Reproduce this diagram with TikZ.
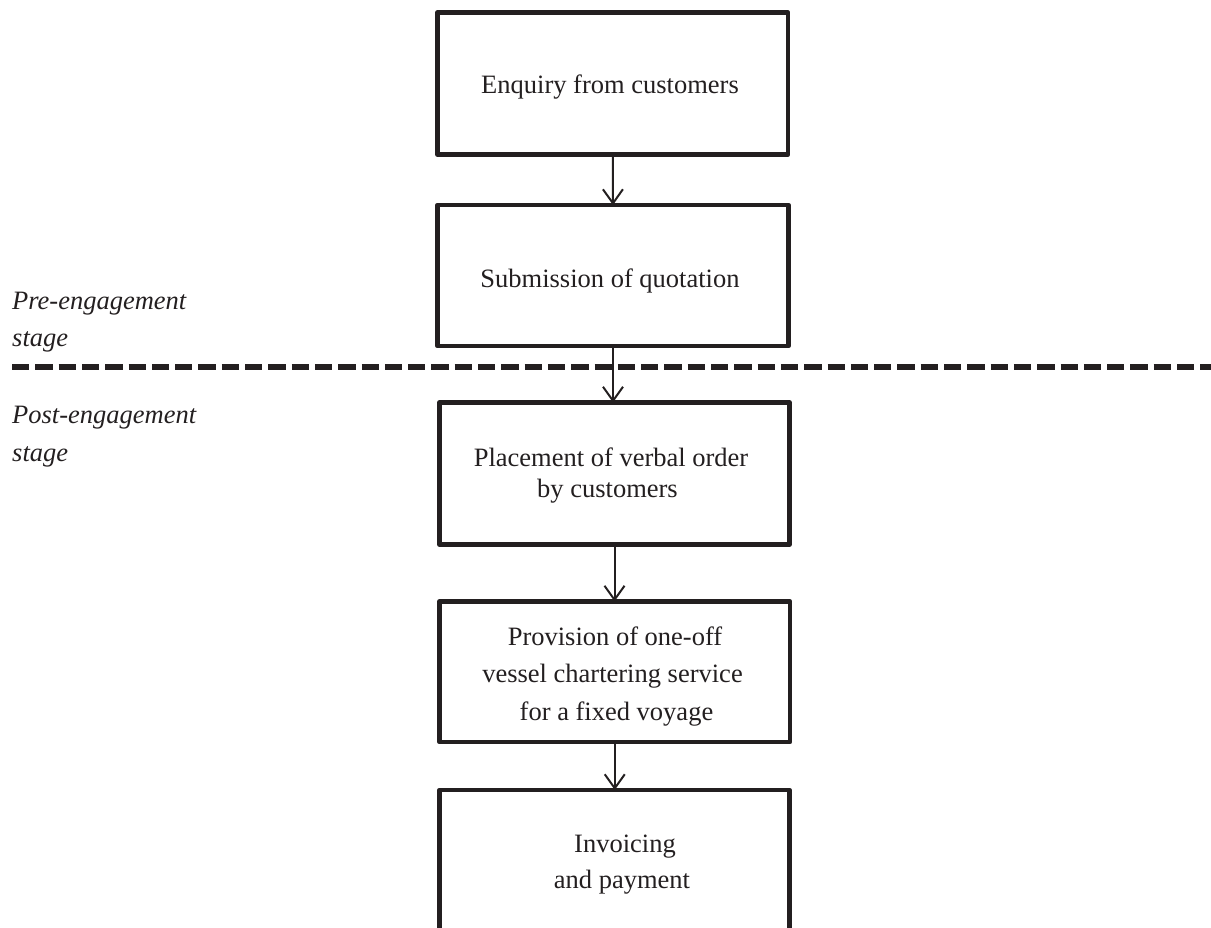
\documentclass[tikz,border=0pt]{standalone}
\usepackage{fontspec}
\setmainfont{Liberation Serif}
\usetikzlibrary{arrows.meta}
\definecolor{ink}{RGB}{35,31,32}
\begin{document}
\begin{tikzpicture}[x=1pt,y=-1pt,
  stepbox/.style={draw=ink, line width=4.5pt, line join=round, rectangle, inner sep=0pt, outer sep=0pt},
  txt/.style={anchor=base, inner sep=0pt, text=ink, font=\fontsize{26.5pt}{32pt}\selectfont},
  lab/.style={anchor=base west, inner sep=0pt, text=ink, font=\fontsize{26.5pt}{32pt}\selectfont\itshape},
  arr/.style={draw=ink, line width=2pt, -{Straight Barb[length=14pt,width=20pt]}},
  divider/.style={draw=ink, line width=5.5pt, dash pattern=on 17.3pt off 6pt}]
\useasboundingbox (0,0) rectangle (1211,928);

% dashed stage divider
\coordinate (dl) at (12,367);
\coordinate (dr) at (1211,367);
\draw[divider] (dl) -- (dr);

% boxes
\node[stepbox, minimum width=350.5pt, minimum height=142pt] (b1) at (612.75,83.5) {};
\node[stepbox, minimum width=351pt, minimum height=141pt] (b2) at (613,275.5) {};
\node[stepbox, minimum width=350pt, minimum height=142pt] (b3) at (614.5,473.5) {};
\node[stepbox, minimum width=350.5pt, minimum height=140.5pt] (b4) at (614.75,671.75) {};
\node[stepbox, minimum width=350pt, minimum height=140pt] (b5) at (614.5,860) {};

% box texts
\node[txt] (t1) at (610,94) {Enquiry from customers};
\node[txt] (t2) at (610,287.3) {Submission of quotation};
\node[txt] (t3a) at (611,466) {Placement of verbal order};
\node[txt] (t3b) at (607.5,497.3) {by customers};
\node[txt] (t4a) at (615,645) {Provision of one-off};
\node[txt] (t4b) at (612.5,682.7) {vessel chartering service};
\node[txt] (t4c) at (616.5,720) {for a fixed voyage};
\node[txt] (t5a) at (625,852) {Invoicing};
\node[txt] (t5b) at (622,888) {and payment};

% stage labels
\node[lab] (pre1) at (12,309) {Pre-engagement};
\node[lab] (pre2) at (12,346) {stage};
\node[lab] (post1) at (12,423) {Post-engagement};
\node[lab] (post2) at (12,461) {stage};

% connectors
\draw[arr] (b1.south) -- (b2.north);
\draw[arr] (b2.south) -- (b2.south |- b3.north);
\draw[arr] (b3.south) -- (b3.south |- b4.north);
\draw[arr] (b4.south) -- (b4.south |- b5.north);
\end{tikzpicture}
\end{document}
